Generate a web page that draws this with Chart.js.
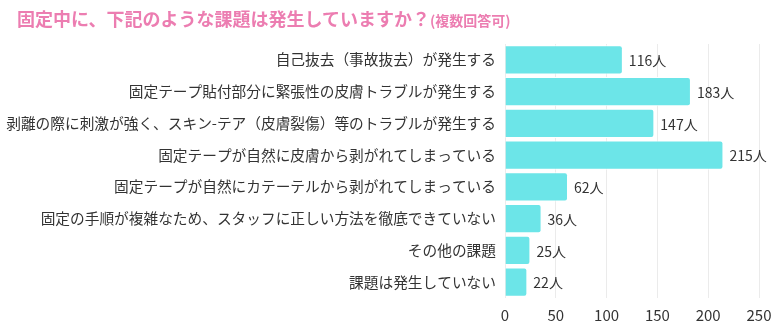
<!DOCTYPE html>
<html><head><meta charset="utf-8">
<script src="https://cdn.jsdelivr.net/npm/chart.js@4"></script>
<style>
html,body{margin:0;padding:0;background:#fff;}
#wrap{position:relative;width:783px;height:334px;}
#title{position:absolute;left:17px;top:5px;font-family:"Noto Sans CJK JP";font-weight:bold;color:#EC7DB1;font-size:18px;white-space:nowrap;}
#title small{font-size:14px;}
canvas{position:absolute;left:0;top:0;}
</style></head>
<body><div id="wrap"><canvas id="c" width="783" height="334"></canvas>
<div id="title">固定中に、下記のような課題は発生していますか？<small>(複数回答可)</small></div></div>
<script>
const categories = [
 "自己抜去（事故抜去）が発生する",
 "固定テープ貼付部分に緊張性の皮膚トラブルが発生する",
 "剥離の際に刺激が強く、スキン-テア（皮膚裂傷）等のトラブルが発生する",
 "固定テープが自然に皮膚から剥がれてしまっている",
 "固定テープが自然にカテーテルから剥がれてしまっている",
 "固定の手順が複雑なため、スタッフに正しい方法を徹底できていない",
 "その他の課題",
 "課題は発生していない"
];
const values = [116, 183, 147, 215, 62, 36, 25, 22];
const unit = "人";
const xTicks = [0, 50, 100, 150, 200, 250];

const labelPlugin = {
  id: 'vlabels',
  afterDatasetsDraw(chart) {
    const ctx = chart.ctx;
    const meta = chart.getDatasetMeta(0);
    ctx.save();
    ctx.font = '14px "Noto Sans CJK JP"';
    ctx.fillStyle = '#333';
    ctx.textBaseline = 'middle';
    ctx.textAlign = 'left';
    meta.data.forEach((bar, i) => {
      ctx.fillText(values[i] + unit, bar.x + 6, bar.y + 1);
    });
    ctx.restore();
  }
};

new Chart(document.getElementById('c'), {
  type: 'bar',
  data: { labels: categories, datasets: [{ data: values, backgroundColor: '#6CE5E8', borderColor: '#ffffff', borderWidth: 1, borderRadius: 3, borderSkipped: 'left', barPercentage: 0.95, categoryPercentage: 0.97 }] },
  options: {
    indexAxis: 'y', responsive: false, animation: false,
    layout: { padding: { top: 44, right: 24, left: 4, bottom: 2 } },
    plugins: { legend: { display: false }, tooltip: { enabled: false } },
    scales: {
      x: { min: 0, max: 250, afterBuildTicks: s => { s.ticks = xTicks.map(v => ({ value: v })); },
           grid: { color: '#ebebeb', drawTicks: false }, border: { display: false },
           ticks: { padding: 8, font: { size: 15, family: '"Noto Sans CJK JP"' }, color: '#333' } },
      y: { afterFit: s => { s.width = 501; },
           grid: { display: false, drawTicks: false }, border: { display: false },
           ticks: { padding: 9, font: { size: 14.7, family: '"Noto Sans CJK JP"' }, color: '#333' } }
    }
  },
  plugins: [labelPlugin]
});
</script></body></html>
